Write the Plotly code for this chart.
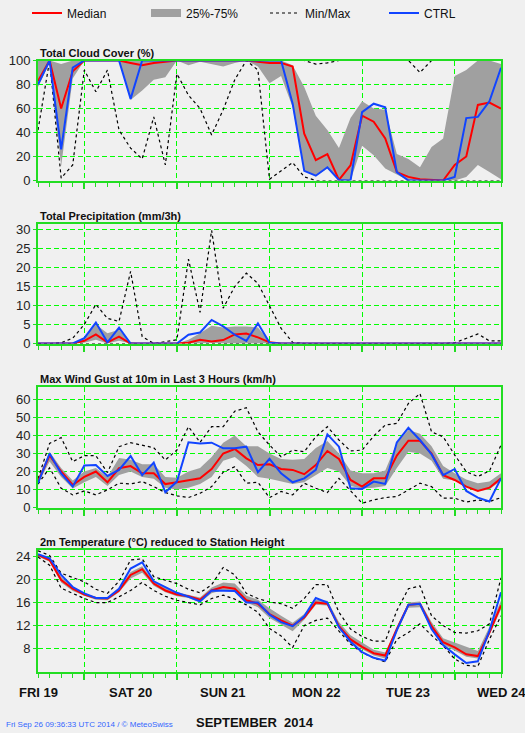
import plotly.graph_objects as go

# ---------------- data (3-hourly steps, hours since FRI 19 00 UTC) ----------------
hours = list(range(0, 121, 3))
day_hours = [0, 24, 48, 72, 96, 120]
day_labels = ["FRI 19", "SAT 20", "SUN 21", "MON 22", "TUE 23", "WED 24"]

cloud_median = [83, 100, 60, 91, 100, 100, 100, 100, 98, 96, 98, 99, 100, 100, 100, 100, 100, 100, 100, 99,
                98, 98, 95, 39, 17, 22, 0.5, 12.6, 54, 49, 35, 7, 3, 1, 0.5, 0, 13, 20, 63, 65, 60]
cloud_ctrl = [80, 100, 26, 94, 100, 100, 100, 100, 68, 100, 100, 100, 100, 100, 100, 100, 100, 100, 100, 100,
              100, 100, 64, 8, 4, 11, 0.5, 0, 57, 64, 61, 7, 0, 0, 0, 0, 3, 52, 53, 66, 94]
cloud_p25 = [78, 98, 12, 85, 100, 100, 100, 100, 67, 75, 84, 86, 100, 96, 99, 97, 95, 98, 100, 95,
             81, 87, 61, 8, 4, 10, 0, 0, 29, 21, 10, 5, 0, 0, 0, 0, 0, 3, 13, 7, 1]
cloud_p75 = [100, 100, 97, 100, 100, 100, 100, 100, 100, 100, 100, 100, 100, 100, 100, 100, 100, 100, 100, 100,
             100, 100, 96, 78, 54, 42, 27, 52, 66, 60, 59, 22, 18, 11, 28, 35, 87, 92, 100, 100, 97]
cloud_min = [42, 100, 2, 13, 92, 74, 92, 42, 27, 18, 53, 13, 89, 71, 60, 38, 59, 84, 100, 92,
             1, 8, 15, 3, 0, 0, 0, 0, 0, 0, 0, 0, 0, 0, 0, 0, 0, 0, 0, 0, 0]
cloud_max = [100, 100, 100, 100, 100, 100, 100, 100, 100, 100, 100, 100, 100, 100, 100, 100, 100, 100, 100, 100,
             100, 100, 100, 100, 97, 98, 100, 100, 100, 100, 100, 100, 100, 90, 100, 100, 100, 100, 100, 100, 100]

precip_median = [0, 0, 0, 0, 0.7, 2.4, 0.3, 1.8, 0, 0, 0, 0, 0, 0.2, 1.0, 0.5, 0.9, 2.4, 2.6, 1.6,
                 0.3, 0, 0, 0, 0, 0, 0, 0, 0, 0, 0, 0, 0, 0, 0, 0, 0, 0, 0, 0, 0]
precip_ctrl = [0, 0, 0, 0, 1.4, 5.5, 0.3, 4.2, 0, 0, 0, 0, 0, 2.3, 2.9, 6.2, 4.5, 2.3, 0.7, 5.3,
               0.2, 0, 0, 0, 0, 0, 0, 0, 0, 0, 0, 0, 0, 0, 0, 0, 0, 0, 0, 0, 0]
precip_p25 = [0, 0, 0, 0, 0.2, 1.0, 0, 0.7, 0, 0, 0, 0, 0, 0, 0, 0.2, 0, 0, 0, 0,
              0, 0, 0, 0, 0, 0, 0, 0, 0, 0, 0, 0, 0, 0, 0, 0, 0, 0, 0, 0, 0]
precip_p75 = [0, 0, 0, 0, 1.6, 5.0, 2.7, 3.6, 0.3, 0, 0, 0, 0, 1.0, 2.7, 4.7, 4.2, 4.5, 4.5, 4.2,
              0.5, 0, 0, 0, 0, 0, 0, 0, 0, 0, 0, 0, 0, 0, 0, 0, 0, 0, 0, 0, 0]
precip_min = [0, 0, 0, 0, 0, 0, 0, 0, 0, 0, 0, 0, 0, 0, 0, 0, 0, 0, 0, 0,
              0, 0, 0, 0, 0, 0, 0, 0, 0, 0, 0, 0, 0, 0, 0, 0, 0, 0, 0, 0, 0]
precip_max = [0, 0, 0.2, 1.4, 5.0, 10.3, 6.6, 5.8, 19.0, 1.8, 0, 0.5, 1.0, 22.2, 8.2, 29.8, 9.3, 15.0, 18.5, 15.8,
              10.0, 4.0, 0.3, 0, 0, 0, 0, 0, 0, 0, 0, 0, 0, 0, 0, 0, 0.2, 1.4, 2.5, 0.7, 0.7]

wind_median = [14.4, 29, 20, 12.5, 17, 20, 14, 21.8, 23, 19, 19, 13, 14, 15, 16.2, 21.4, 30, 32.5, 27.3, 23.6,
               24, 21.4, 20.9, 18.5, 23.6, 31.4, 27, 15.3, 11.6, 16.2, 16.2, 28.8, 37.1, 37.1, 30, 18, 15.3, 11.6, 9.2, 11, 16.2]
wind_ctrl = [13.5, 30, 19, 11.6, 23.3, 23.6, 17.5, 20.9, 28.6, 18, 24.9, 8.5, 14.4, 36.2, 35.6, 36, 32.9, 32.9, 33.8, 19.6,
             27, 19, 14, 16.2, 20.9, 40.6, 33.8, 10.7, 10.3, 14.4, 13.1, 36.2, 44.3, 37.5, 29.5, 18, 21.4, 9.2, 5.5, 3.3, 16.2]
wind_p25 = [13, 25.5, 17, 10.5, 14, 17, 12, 18, 20, 17, 16, 11, 10, 11, 13, 17, 26, 28, 23, 17,
            16, 14.5, 13, 14, 18, 22, 20, 12, 10.5, 11, 12, 22, 31, 30, 26, 16, 15, 11.5, 9, 10, 15]
wind_p75 = [16, 31, 22, 15, 20, 22, 17, 27.5, 26.5, 24, 24, 17, 16.5, 20, 22, 28, 36, 40, 34, 34,
            30, 27, 26.5, 27, 33, 37, 30, 20.5, 19, 19, 20.5, 36, 43, 41, 34, 23, 19, 15.5, 13.5, 14.5, 19]
wind_min = [13, 22, 10.7, 7, 9.2, 7, 9.8, 13.5, 13.1, 14.4, 11.6, 8.3, 6.5, 5.5, 7.9, 11.6, 19.6, 22.7, 13.5, 14,
            5.5, 8.9, 7, 13.5, 10.7, 8.3, 16.2, 9.2, 2.4, 4.2, 5.5, 6.1, 9.8, 13.5, 11.6, 5.2, 5.2, 3, 4.2, 3.3, 5.5]
wind_max = [16, 35.6, 38.8, 25.5, 28.8, 28.8, 19.4, 33.8, 36, 34.7, 33.2, 26.4, 31.9, 44.9, 36.2, 44.9, 44.9, 53.5, 55.4, 42,
            34.7, 28.2, 31.9, 31, 39.3, 44.9, 37.5, 31.4, 31.9, 39.7, 45.8, 46.7, 57.8, 63.3, 42, 39.3, 29.2, 19.9, 17.2, 20.3, 34.7]

temp_median = [24.3, 23.4, 19.9, 18.4, 17.4, 16.8, 16.7, 18.1, 20.8, 21.8, 19.3, 18.1, 17.4, 17.1, 16.5, 18.1, 18.7, 18.4, 16.4, 15.8,
               14.0, 12.9, 12.0, 13.4, 16.0, 15.8, 11.9, 9.6, 8.3, 7.2, 6.8, 11.4, 15.6, 15.8, 11.9, 9.1, 8.2, 7.0, 6.7, 10.8, 15.5]
temp_ctrl = [24.4, 23.7, 20.8, 18.7, 17.6, 16.8, 16.8, 18.4, 21.9, 23.0, 19.7, 18.7, 17.7, 17.0, 16.2, 18.1, 18.1, 18.0, 16.0, 16.0,
             13.9, 12.6, 11.9, 13.6, 16.8, 16.0, 11.7, 9.2, 7.4, 6.4, 5.9, 11.2, 15.6, 15.8, 11.4, 8.6, 7.0, 5.5, 5.8, 11.1, 17.8]
temp_p25 = [24.0, 23.1, 19.5, 18.0, 17.2, 16.5, 16.4, 17.8, 20.2, 21.2, 18.9, 17.8, 17.1, 16.8, 16.0, 17.6, 18.2, 18.0, 16.0, 15.2,
            13.3, 12.2, 11.0, 13.0, 15.6, 15.5, 11.4, 9.2, 7.9, 6.8, 6.3, 10.8, 15.1, 15.2, 11.4, 8.7, 7.7, 6.6, 6.3, 10.4, 14.8]
temp_p75 = [24.5, 23.8, 20.5, 18.8, 17.6, 16.9, 16.9, 18.5, 21.3, 22.3, 19.8, 18.6, 17.8, 17.4, 16.9, 18.6, 19.5, 19.3, 17.2, 16.5,
            15.0, 13.7, 12.5, 14.0, 16.5, 16.3, 12.6, 10.3, 9.0, 7.8, 7.3, 11.8, 16.0, 16.2, 12.6, 9.8, 9.0, 8.3, 7.6, 11.8, 16.3]
temp_min = [23.9, 22.5, 18.5, 17.6, 16.7, 16.0, 16.0, 17.0, 18.1, 19.5, 18.1, 17.1, 16.4, 16.0, 15.6, 16.7, 17.3, 16.6, 15.6, 14.3,
            11.5, 10.2, 8.2, 12.0, 12.9, 13.3, 11.1, 8.8, 7.3, 6.4, 5.7, 9.6, 10.8, 12.3, 10.3, 8.5, 6.2, 5.1, 4.9, 9.6, 13.7]
temp_max = [25.0, 24.2, 21.1, 20.3, 19.6, 18.3, 17.6, 19.7, 23.4, 23.6, 20.5, 19.9, 19.3, 18.3, 17.7, 19.1, 22.1, 20.8, 17.6, 16.7,
            16.1, 15.8, 15.0, 16.7, 19.1, 19.1, 14.3, 11.4, 10.1, 9.3, 9.3, 14.6, 18.4, 18.9, 13.7, 12.0, 10.8, 10.7, 11.1, 12.3, 20.3]

panel_titles = ["Total Cloud Cover (%)", "Total Precipitation (mm/3h)",
                "Max Wind Gust at 10m in Last 3 Hours (km/h)", "2m Temperature (°C) reduced to Station Height"]

# ---------------- styling ----------------
FONT = "Liberation Sans, Arial, sans-serif"
GRID = "#00ff00"
AXIS = "#22dd22"
BAND = "#a0a0a0"
RED = "#ff0000"
BLUE = "#1144ff"
BG = "#f0f0f0"

panels = [
    dict(med=cloud_median, ctrl=cloud_ctrl, p25=cloud_p25, p75=cloud_p75, mn=cloud_min, mx=cloud_max,
         yrange=[0, 100], tick0=0, dtick=20),
    dict(med=precip_median, ctrl=precip_ctrl, p25=precip_p25, p75=precip_p75, mn=precip_min, mx=precip_max,
         yrange=[0, 31.58], tick0=0, dtick=5),
    dict(med=wind_median, ctrl=wind_ctrl, p25=wind_p25, p75=wind_p75, mn=wind_min, mx=wind_max,
         yrange=[0, 66.67], tick0=0, dtick=10),
    dict(med=temp_median, ctrl=temp_ctrl, p25=temp_p25, p75=temp_p75, mn=temp_min, mx=temp_max,
         yrange=[4.02, 25.22], tick0=0, dtick=4),
]
# panel domains chosen so grid lines fall on pixel centres
domains = [[0.80310, 0.99918], [0.53676, 0.73284], [0.26879, 0.46487], [0.000817, 0.20016]]

fig = go.Figure()
for k, p in enumerate(panels):
    xa = "x" if k == 0 else f"x{k+1}"
    ya = "y" if k == 0 else f"y{k+1}"
    first = (k == 0)
    fig.add_trace(go.Scatter(x=hours, y=p["p25"], mode="lines", line=dict(width=0, color=BAND),
                             xaxis=xa, yaxis=ya, showlegend=False, hoverinfo="skip"))
    fig.add_trace(go.Scatter(x=hours, y=p["p75"], mode="lines", line=dict(width=0, color=BAND),
                             fill="tonexty", fillcolor=BAND, xaxis=xa, yaxis=ya, showlegend=False))
    fig.add_trace(go.Scatter(x=hours, y=p["mn"], mode="lines", name="Min/Max", legendgroup="mm",
                             line=dict(width=1.2, color="black", dash="dot"),
                             xaxis=xa, yaxis=ya, showlegend=first, legendrank=3))
    fig.add_trace(go.Scatter(x=hours, y=p["mx"], mode="lines", name="Min/Max", legendgroup="mm",
                             line=dict(width=1.2, color="black", dash="dot"),
                             xaxis=xa, yaxis=ya, showlegend=False))
    fig.add_trace(go.Scatter(x=hours, y=p["med"], mode="lines", name="Median", legendgroup="med",
                             line=dict(width=2, color=RED), xaxis=xa, yaxis=ya,
                             showlegend=first, legendrank=1))
    fig.add_trace(go.Scatter(x=hours, y=p["ctrl"], mode="lines", name="CTRL", legendgroup="ctrl",
                             line=dict(width=2, color=BLUE), xaxis=xa, yaxis=ya,
                             showlegend=first, legendrank=4))

# legend-only entry for the interquartile band
fig.add_trace(go.Scatter(x=[None], y=[None], mode="lines", name="25%-75%",
                         line=dict(width=8, color=BAND), legendrank=2))

layout = dict(
    width=525, height=733,
    paper_bgcolor=BG, plot_bgcolor=BG,
    margin=dict(l=38, r=24, t=60, b=61, autoexpand=False),
    font=dict(family=FONT, size=12, color="#111"),
    showlegend=True,
    legend=dict(orientation="h", x=(27 - 38) / 463, xanchor="left",
                y=(672 - 13) / 612, yanchor="middle",
                entrywidth=74, entrywidthmode="pixels", bgcolor="rgba(0,0,0,0)",
                font=dict(size=12, family=FONT), itemwidth=30, tracegroupgap=0),
)
for k, p in enumerate(panels):
    sfx = "" if k == 0 else str(k + 1)
    layout["xaxis" + sfx] = dict(
        domain=[0, 1], range=[0, 120], anchor="y" + sfx, automargin=False,
        showgrid=True, gridcolor=GRID, griddash="5px,3px", gridwidth=1,
        tick0=12, dtick=24, ticks="outside", ticklen=6, tickwidth=1.5, tickcolor=AXIS,
        showticklabels=False, showline=True, linecolor=AXIS, linewidth=2, mirror=True,
        zeroline=False,
        minor=dict(tick0=0, dtick=3, ticks="outside", ticklen=4, tickwidth=1.2,
                   tickcolor=AXIS, showgrid=False),
    )
    layout["yaxis" + sfx] = dict(
        domain=domains[k], range=p["yrange"], anchor="x" + sfx, automargin=False,
        tick0=p["tick0"], dtick=p["dtick"], showgrid=True, gridcolor=GRID, griddash="5px,3px",
        gridwidth=1, ticks="outside", ticklen=3, tickcolor=AXIS, showline=True,
        linecolor=AXIS, linewidth=2, mirror=True, zeroline=False,
        tickfont=dict(size=13, color="#222", family=FONT),
    )
fig.update_layout(**layout)

# panel titles
for k, t in enumerate(panel_titles):
    fig.add_annotation(text="<b>" + t + "</b>", xref="paper", yref="paper", x=0, y=domains[k][1],
                       xanchor="left", yanchor="bottom", showarrow=False, yshift=0,
                       font=dict(size=11, family=FONT, color="#111"))

# day labels under the last panel
for h, lab in zip(day_hours, day_labels):
    fig.add_annotation(text="<b>" + lab + "</b>", xref="x4", yref="paper", x=h, y=-0.0327,
                       xanchor="center", yanchor="middle", showarrow=False,
                       font=dict(size=13, family=FONT, color="#111"))

fig.add_annotation(text="<b>SEPTEMBER\u00a0 2014</b>", xref="paper", yref="paper", x=0.4687, y=-0.0833,
                   xanchor="center", yanchor="middle", showarrow=False,
                   font=dict(size=13, family=FONT, color="#111"))
fig.add_annotation(text="Fri Sep 26 09:36:33 UTC 2014 / © MeteoSwiss", xref="paper", yref="paper",
                   x=-0.0734, y=-0.0866, xanchor="left", yanchor="middle", showarrow=False,
                   font=dict(size=8, family=FONT, color="#3366ff"))

fig.write_html("out.html", config={"displayModeBar": False},
               post_script="document.body.style.margin='0';")
